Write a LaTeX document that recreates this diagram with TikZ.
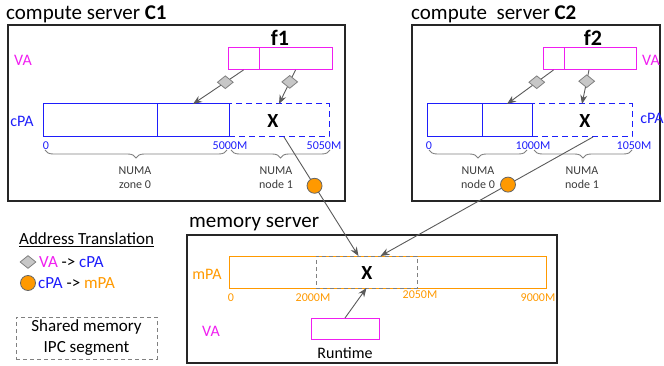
\documentclass[tikz,border=0pt]{standalone}
\usepackage{fontspec}
\setmainfont{Carlito}
\usetikzlibrary{decorations.pathreplacing,arrows.meta,shapes.geometric,calc}
\definecolor{mag}{RGB}{240,30,240}
\definecolor{cblue}{RGB}{30,30,250}
\definecolor{morange}{RGB}{255,153,0}
\definecolor{agray}{RGB}{90,90,90}
\definecolor{bgray}{RGB}{128,128,128}
\definecolor{tgray}{RGB}{60,60,60}
\begin{document}
\begin{tikzpicture}[x=1pt,y=-1pt,
  bx/.style={anchor=north west, inner sep=0pt, outer sep=0pt},
  srv/.style={bx, draw=black!85, line width=1.3pt},
  vabox/.style={bx, draw=mag, line width=1pt, minimum height=22pt},
  cpabox/.style={bx, draw=cblue, line width=1pt, minimum height=33pt},
  cpadash/.style={cpabox, dash pattern=on 6pt off 4pt},
  titletxt/.style={anchor=base west, inner sep=0pt, font=\fontsize{21}{25}\selectfont},
  axlab/.style={inner sep=0pt, font=\fontsize{12}{14}\selectfont},
  numa/.style={inner sep=0pt, align=center, text=tgray, font=\fontsize{12}{14}\selectfont},
  sidelab/.style={inner sep=0pt, font=\fontsize{16}{19}\selectfont},
  xlab/.style={inner sep=0pt, font=\fontsize{20}{24}\selectfont\bfseries},
  flab/.style={inner sep=0pt, font=\fontsize{22}{26}\selectfont\bfseries},
  legtxt/.style={inner sep=0pt, font=\fontsize{17}{21}\selectfont},
  conn/.style={draw=agray, line width=0.9pt, -{Stealth[length=9pt,width=7pt]}},
  dia/.style={diamond, draw=bgray, fill=black!22, line width=0.8pt, minimum width=16pt, minimum height=13pt, inner sep=0pt},
  odot/.style={circle, draw=bgray!80!black, fill=morange, line width=0.8pt, minimum size=15pt, inner sep=0pt},
  brc/.style={draw=bgray, line width=0.9pt, decorate, decoration={brace, mirror, amplitude=8pt}}
]
\useasboundingbox (0,0) rectangle (664,366);

% ---------- compute server C1 ----------
\node[srv, minimum width=337pt, minimum height=176pt] (c1) at (8,25) {};
\node[titletxt] (t1) at (6,20) {compute server \textbf{C1}};
\node[flab] (f1) at (280,38) {f1};
\node[vabox, minimum width=31pt] (va1a) at (228,48) {};
\node[vabox, minimum width=73pt] (va1b) at (259,48) {};
\node[sidelab, text=mag] (val1) at (23,60) {VA};
\node[cpadash, minimum width=100pt] (cpa1c) at (229,104) {};
\node[cpabox, minimum width=114pt] (cpa1a) at (43,104) {};
\node[cpabox, minimum width=72pt] (cpa1b) at (157,104) {};
\node[sidelab, text=cblue] (cpal1) at (22,121) {cPA};
\node[xlab] (x1) at (273,121) {X};
\node[axlab, text=cblue] (n10) at (46,146) {0};
\node[axlab, text=cblue] (n11) at (230,146) {5000M};
\node[axlab, text=cblue] (n12) at (324,146) {5050M};
\draw[brc] (45,150) coordinate (b1s) -- (227,150) coordinate (b1e);
\draw[brc] (231,150) coordinate (b2s) -- (330,150) coordinate (b2e);
\node[numa] (z10) at (135,178) {NUMA\\zone 0};
\node[numa] (z11) at (276,178) {NUMA\\node 1};
\draw[conn] (va1a.south) -- node[pos=0.36, dia] (d11) {} (cpa1b.north);
\draw[conn] (va1b.south) -- node[pos=0.35, dia] (d12) {} (cpa1c.north);

% ---------- compute server C2 ----------
\node[srv, minimum width=248pt, minimum height=176pt] (c2) at (412,25) {};
\node[titletxt] (t2) at (411,20) {compute\ \ server \textbf{C2}};
\node[flab] (f2) at (593,38) {f2};
\node[vabox, minimum width=21pt] (va2a) at (543,48) {};
\node[vabox, minimum width=72pt] (va2b) at (564,48) {};
\node[sidelab, text=mag] (val2) at (651,60) {VA};
\node[cpadash, minimum width=100pt] (cpa2c) at (532,104) {};
\node[cpabox, minimum width=55pt] (cpa2a) at (427,104) {};
\node[cpabox, minimum width=50pt] (cpa2b) at (482,104) {};
\node[sidelab, text=cblue] (cpal2) at (652,118) {cPA};
\node[xlab] (x2) at (585,121) {X};
\node[axlab, text=cblue] (n20) at (429,146) {0};
\node[axlab, text=cblue] (n21) at (533,146) {1000M};
\node[axlab, text=cblue] (n22) at (634,146) {1050M};
\draw[brc] (429,150) coordinate (b3s) -- (527,150) coordinate (b3e);
\draw[brc] (534,150) coordinate (b4s) -- (632,150) coordinate (b4e);
\node[numa] (z20) at (478,178) {NUMA\\node 0};
\node[numa] (z21) at (582,178) {NUMA\\node 1};
\draw[conn] (va2a.south) -- node[pos=0.36, dia] (d21) {} (cpa2b.north);
\draw[conn] ($(va2b.south)+(-11,0)$) -- node[pos=0.33, dia] (d22) {} (cpa2c.north);

% ---------- memory server ----------
\node[srv, minimum width=370pt, minimum height=128pt] (ms) at (187,235) {};
\node[titletxt] (t3) at (189,228) {memory server};
\node[bx, draw=morange, line width=1pt, minimum width=317pt, minimum height=32pt] (mpa) at (229,256) {};
\node[bx, draw=bgray, line width=0.9pt, dash pattern=on 4pt off 3pt, minimum width=101pt, minimum height=32pt] (mx) at (316,256) {};
\node[xlab] (x3) at (367,273) {X};
\node[sidelab, text=morange] (mpal) at (207,274) {mPA};
\node[axlab, text=morange] (m0) at (231,298) {0};
\node[axlab, text=morange] (m1) at (313,298) {2000M};
\node[axlab, text=morange] (m2) at (420,295) {2050M};
\node[axlab, text=morange] (m3) at (538,298) {9000M};
\node[bx, draw=mag, line width=1pt, minimum width=68pt, minimum height=21pt] (rt) at (311,318) {};
\node[sidelab, text=mag] (val3) at (211,331) {VA};
\node[sidelab] (rtl) at (345,353) {Runtime};
\draw[conn] (rt.north) -- (mx.south);

% ---------- cross-server connectors ----------
\draw[conn] ($(cpa1c.south)+(5,0)$) -- node[pos=0.41, odot] (o1) {} ($(mx.north)+(-8,0)$);
\draw[conn] ($(cpa2c.south)+(11,0)$) -- node[pos=0.40, odot] (o2) {} ($(mx.north)+(14,0)$);

% ---------- legend ----------
\node[legtxt, anchor=west] (lt) at (19,240) {\underline{Address Translation}};
\node[dia] (ld) at (28,262) {};
\node[legtxt, anchor=west] (l1) at (39,262) {\textcolor{mag}{VA} -> \textcolor{cblue}{cPA}};
\node[odot] (lo) at (28,283) {};
\node[legtxt, anchor=west] (l2) at (38,283) {\textcolor{cblue}{cPA} -> \textcolor{morange}{mPA}};
\node[bx, draw=bgray, line width=0.9pt, dash pattern=on 4pt off 3pt, minimum width=141pt, minimum height=42pt] (lg) at (16,317) {};
\node[legtxt, align=center, font=\fontsize{17}{21}\selectfont] (lgt) at (lg.center) {Shared memory\\IPC segment};
\end{tikzpicture}
\end{document}
